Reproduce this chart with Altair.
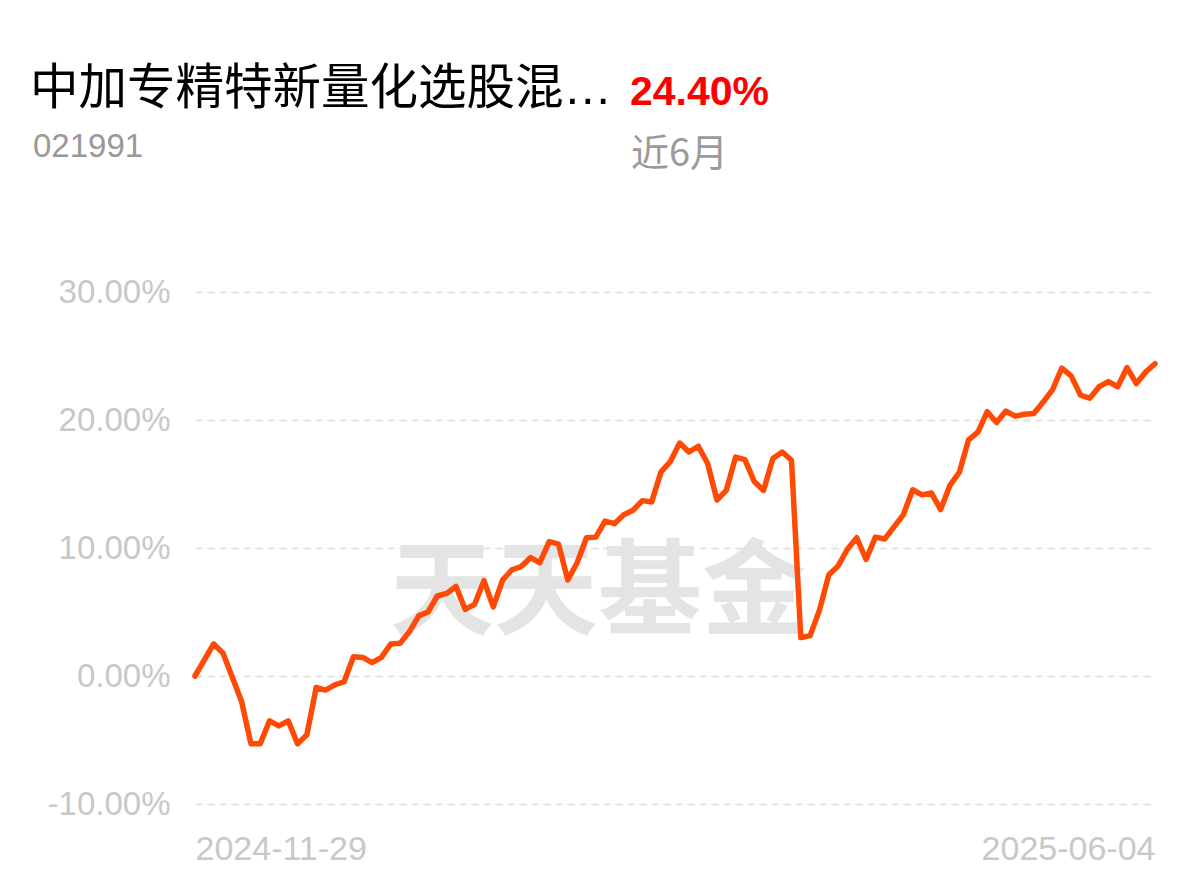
import altair as alt
import pandas as pd

# ---- data ----
fund_name = "中加专精特新量化选股混…"
fund_code = "021991"
period_return = "24.40%"
period_label = "近6月"
watermark = "天天基金"
x_end_labels = ["2024-11-29", "2025-06-04"]
y_ticks = [-10, 0, 10, 20, 30]

returns = [
    0.00, 1.25, 2.5, 1.8, -0.1, -2.0, -5.3, -5.3, -3.5, -3.9,
    -3.5, -5.3, -4.6, -0.9, -1.1, -0.7, -0.45, 1.5, 1.45, 1.05,
    1.45, 2.5, 2.55, 3.45, 4.7, 5.0, 6.25, 6.45, 7.0, 5.2,
    5.6, 7.45, 5.4, 7.5, 8.3, 8.55, 9.25, 8.85, 10.5, 10.3,
    7.5, 8.85, 10.8, 10.85, 12.1, 11.9, 12.6, 12.95, 13.7, 13.6,
    15.95, 16.75, 18.2, 17.5, 17.95, 16.6, 13.75, 14.5, 17.1, 16.9,
    15.2, 14.5, 17.0, 17.5, 16.85, 3.0, 3.15, 5.15, 7.9, 8.6,
    9.9, 10.8, 9.1, 10.85, 10.7, 11.65, 12.6, 14.55, 14.15, 14.3,
    13.0, 14.9, 15.9, 18.45, 19.05, 20.65, 19.8, 20.7, 20.3, 20.45,
    20.5, 21.4, 22.35, 24.05, 23.45, 21.95, 21.7, 22.6, 23.0, 22.6,
    24.1, 22.85, 23.75, 24.40,
]

n = len(returns)
df = pd.DataFrame({"i": list(range(n)), "v": returns})

label_expr = (
    f"datum.value == 0 ? '{x_end_labels[0]}' : "
    f"(datum.value == {n - 1} ? '{x_end_labels[1]}' : '')"
)
y_label_expr = "(datum.value < 0 ? '-' : '') + format(abs(datum.value), '.2f') + '%'"

LATIN = "Liberation Sans"
CJK = "Noto Sans CJK SC"

wm = alt.Chart(pd.DataFrame({"t": [watermark]})).mark_text(
    font=CJK, fontSize=104, fontWeight="bold", color="#e4e4e4",
    align="center", baseline="middle",
).encode(x=alt.value(403), y=alt.value(304), text="t:N")

line = alt.Chart(df).mark_line(
    color="#ff4a06", strokeWidth=5.5, strokeCap="round", strokeJoin="round",
).encode(
    x=alt.X(
        "i:Q",
        scale=alt.Scale(domain=[0, n - 1], nice=False, zero=False),
        axis=alt.Axis(
            values=[0, n - 1], labelExpr=label_expr, labelFlush=True,
            grid=False, domain=False, ticks=False, title=None,
            labelFont=LATIN, labelFontSize=34, labelColor="#c8c8c8",
            labelPadding=28, labelLimit=0,
        ),
    ),
    y=alt.Y(
        "v:Q",
        scale=alt.Scale(domain=[-10, 30], nice=False),
        axis=alt.Axis(
            values=y_ticks, labelExpr=y_label_expr,
            domain=False, ticks=False, title=None,
            labelFont=LATIN, labelFontSize=33, labelColor="#c8c8c8",
            labelPadding=25, labelLimit=0,
            grid=True, gridColor="#e3e3e3", gridDash=[7, 5], gridWidth=2,
        ),
    ),
)

def txt(s, x, y, font, size, color, weight="normal"):
    return alt.Chart(pd.DataFrame({"t": [s]})).mark_text(
        font=font, fontSize=size, fontWeight=weight, color=color,
        align="left", baseline="alphabetic",
    ).encode(x=alt.value(x), y=alt.value(y), text="t:N")

t1 = txt(fund_name, -165, -188, f"{LATIN}, {CJK}", 48.5, "#000000")
t2 = txt(period_return, 435, -187, LATIN, 41, "#ff0000", "bold")
t3 = txt(fund_code, -162, -135, LATIN, 33, "#999999")
t4 = txt(period_label, 436, -126, CJK, 38, "#9a9a9a")

chart = alt.layer(wm, line, t1, t2, t3, t4).properties(
    width=960, height=512,
    autosize=alt.AutoSizeParams(type="none"),
    padding={"left": 187, "top": 284, "right": 30, "bottom": 70},
).configure(background="white").configure_view(strokeWidth=0)

chart.save("out.html", embed_options={"renderer": "svg", "actions": False})
